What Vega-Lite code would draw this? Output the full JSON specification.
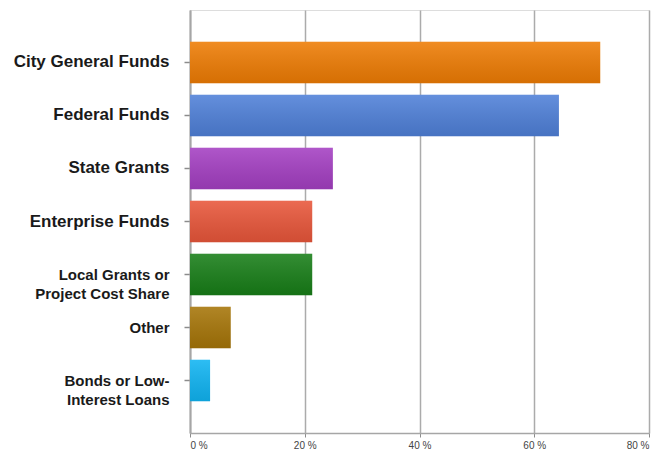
{
  "$schema": "https://vega.github.io/schema/vega-lite/v6.json",
  "autosize": {"type": "none"},
  "padding": {"left": 190, "top": 10, "right": 19, "bottom": 20},
  "width": 459,
  "height": 423,
  "background": "white",
  "data": {
    "values": [
      {"source": "City General Funds", "pct": 71.5},
      {"source": "Federal Funds", "pct": 64.3},
      {"source": "State Grants", "pct": 24.9},
      {"source": "Enterprise Funds", "pct": 21.3},
      {"source": "Local Grants or Project Cost Share", "pct": 21.3},
      {"source": "Other", "pct": 7.1},
      {"source": "Bonds or Low-Interest Loans", "pct": 3.5}
    ]
  },
  "encoding": {
    "y": {
      "field": "source",
      "type": "nominal",
      "sort": null,
      "title": null,
      "scale": {"paddingInner": 0.22, "paddingOuter": 0.6},
      "axis": {
        "domainColor": "#A6A6A6",
        "domainWidth": 2,
        "tickColor": "#8C8C8C",
        "tickSize": 6,
        "tickWidth": 1.5,
        "labelPadding": 15,
        "labelFont": "Liberation Sans",
        "labelFontWeight": "bold",
        "labelColor": "#1A1A1A",
        "labelLineHeight": 19,
        "labelLimit": 190,
        "labelFontSize": {
          "condition": {"test": "indexof(['Local Grants or Project Cost Share','Other','Bonds or Low-Interest Loans'], datum.value) >= 0", "value": 15},
          "value": 17
        },
        "labelExpr": "datum.value == 'Local Grants or Project Cost Share' ? ['Local Grants or   ', 'Project Cost Share'] : datum.value == 'Bonds or Low-Interest Loans' ? ['Bonds or Low-', 'Interest Loans'] : datum.value"
      }
    },
    "x": {
      "field": "pct",
      "type": "quantitative",
      "title": null,
      "scale": {"domain": [0, 80], "nice": false},
      "axis": {
        "values": [0, 20, 40, 60, 80],
        "grid": true,
        "gridColor": "#ABABAB",
        "gridWidth": 1.5,
        "domainColor": "#A6A6A6",
        "domainWidth": 1.5,
        "tickColor": "#8C8C8C",
        "tickSize": 4,
        "labelPadding": 3,
        "labelFont": "Liberation Sans",
        "labelFontSize": 10,
        "labelColor": "#444444",
        "labelExpr": "datum.value + ' %'"
      }
    }
  },
  "layer": [
    {
      "mark": {"type": "bar"},
      "encoding": {
        "color": {
          "field": "source",
          "type": "nominal",
          "legend": null,
          "scale": {
            "domain": ["City General Funds", "Federal Funds", "State Grants", "Enterprise Funds", "Local Grants or Project Cost Share", "Other", "Bonds or Low-Interest Loans"],
            "range": ["#EE7C04", "#4F80D8", "#A43FC2", "#E8563A", "#187E18", "#A67508", "#10B4F2"]
          }
        }
      }
    },
    {
      "mark": {
        "type": "bar",
        "fill": {
          "gradient": "linear",
          "x1": 0, "y1": 0, "x2": 0, "y2": 1,
          "stops": [
            {"offset": 0, "color": "rgba(255,255,255,0.12)"},
            {"offset": 1, "color": "rgba(0,0,0,0.1)"}
          ]
        }
      },
      "encoding": {}
    }
  ]
}
